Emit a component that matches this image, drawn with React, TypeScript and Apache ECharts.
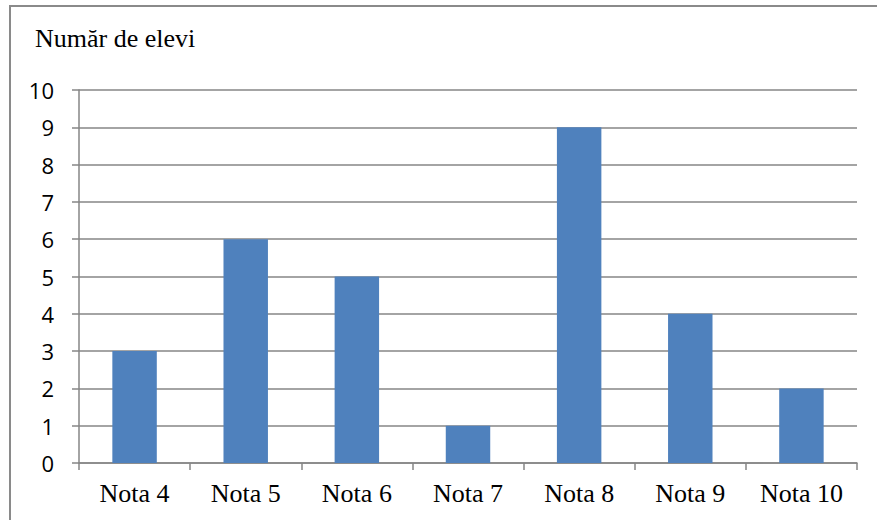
import React, { useEffect, useRef } from "react";
import * as echarts from "echarts";

const categories = ["Nota 4", "Nota 5", "Nota 6", "Nota 7", "Nota 8", "Nota 9", "Nota 10"];
const values = [3, 6, 5, 1, 9, 4, 2];
const yTitle = "Număr de elevi";

const SERIF = "Liberation Serif";
const SANS = "Open Sans";

export default function App() {
  const ref = useRef<HTMLDivElement>(null);
  useEffect(() => {
    const chart = echarts.init(ref.current!, null, { renderer: "svg" });
    chart.setOption({
      animation: false,
      backgroundColor: "#ffffff",
      grid: { left: 79, right: 20, top: 90, bottom: 57, containLabel: false },
      graphic: [
        {
          type: "rect",
          shape: { x: 10, y: 6, width: 900, height: 560 },
          style: { fill: "none", stroke: "#8a8a8a", lineWidth: 2 },
          silent: true,
        },
        {
          type: "text",
          left: 35,
          top: 25,
          style: {
            text: yTitle,
            fontFamily: SERIF,
            fontSize: 26,
            fill: "#000",
          },
        },
      ],
      xAxis: {
        type: "category",
        data: categories,
        axisLine: { lineStyle: { color: "#868686", width: 1.5 } },
        axisTick: { show: true, length: 7, alignWithLabel: false, lineStyle: { color: "#868686", width: 1.5 } },
        axisLabel: {
          margin: 17,
          color: "#000",
          fontFamily: SERIF,
          fontSize: 26,
        },
      },
      yAxis: {
        type: "value",
        min: 0,
        max: 10,
        interval: 1,
        axisLine: { show: true, lineStyle: { color: "#868686", width: 1.5 } },
        axisTick: { show: true, length: 7, lineStyle: { color: "#868686", width: 1.5 } },
        splitLine: { show: true, lineStyle: { color: "#868686", width: 1.5 } },
        axisLabel: {
          margin: 25,
          color: "#000",
          fontFamily: SANS,
          fontSize: 22,
        },
      },
      series: [
        {
          type: "bar",
          data: values,
          barWidth: "40%",
          itemStyle: { color: "#4F81BD" },
        },
      ],
    });
    return () => chart.dispose();
  }, []);
  return <div ref={ref} style={{ position: "fixed", left: 0, top: 0, width: 877, height: 520 }} />;
}
